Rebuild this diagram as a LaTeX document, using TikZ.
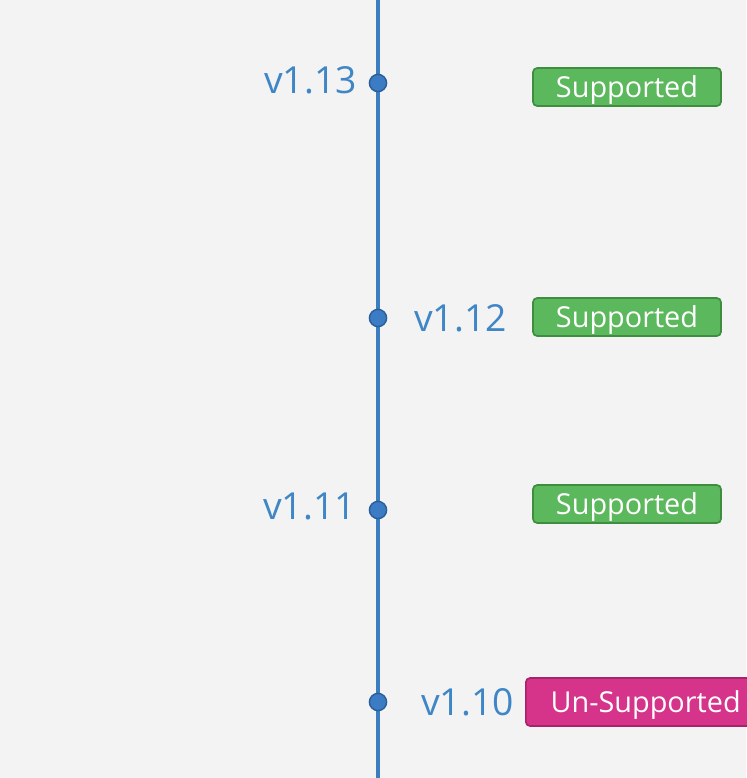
\documentclass[tikz,border=0pt]{standalone}
\usepackage{fontspec}
\setmainfont{Open Sans}
\usepackage{xcolor}
\usetikzlibrary{positioning}
\definecolor{bgray}{HTML}{F3F3F3}
\definecolor{lineblue}{HTML}{3C7DBF}
\definecolor{dotblue}{HTML}{3B7CC4}
\definecolor{dotedge}{HTML}{2A5E96}
\definecolor{verblue}{HTML}{3F86C6}
\definecolor{tggreen}{HTML}{5CB85C}
\definecolor{tgedge}{HTML}{3F8E3F}
\definecolor{tgpink}{HTML}{D6338A}
\definecolor{tgpinkedge}{HTML}{A8246A}

\begin{document}
\begin{tikzpicture}[x=0.025cm,y=-0.025cm,
  dot/.style={circle,fill=dotblue,draw=dotedge,line width=1pt,inner sep=0pt,minimum size=4.3mm},
  ver/.style={text=verblue,font=\fontsize{26.5}{30}\selectfont,inner sep=0pt},
  tag/.style={rounded corners=3pt,fill=tggreen,draw=tgedge,line width=1.2pt,text=white,
    font=\fontsize{20.5}{23}\selectfont,text height=15pt,text depth=0.2pt,
    minimum width=4.7cm,minimum height=0.95cm,inner sep=0pt},
  untag/.style={rounded corners=3pt,fill=tgpink,draw=tgpinkedge,line width=1.2pt,text=white,
    font=\fontsize{20.5}{23}\selectfont,text height=15pt,text depth=0.2pt,
    minimum height=1.2cm,inner xsep=0.62cm,inner ysep=0pt}]
\fill[bgray] (0,0) rectangle (746,778);
\useasboundingbox (0,0) rectangle (746,778);

% timeline
\coordinate (top) at (378,0);
\coordinate (bottom) at (378,778);
\draw[lineblue,line width=2.2pt] (top) -- (bottom);

\node[dot] (d13) at (378,83) {};
\node[dot] (d12) at (378,318) {};
\node[dot] (d11) at (378,510) {};
\node[dot] (d10) at (378,702) {};

% versions
\node[ver,anchor=east] (v13) at (357,80) {v1.13};
\node[ver,anchor=west] (v12) at (414,318) {v1.12};
\node[ver,anchor=east] (v11) at (356,506) {v1.11};
\node[ver,anchor=west] (v10) at (421,702) {v1.10};

% support status
\node[tag] (s13) at (627,87) {Supported};
\node[tag] (s12) at (627,317) {Supported};
\node[tag] (s11) at (627,504) {Supported};
\node[untag,anchor=west] (s10) at (525,702) {Un-Supported};
\end{tikzpicture}
\end{document}
